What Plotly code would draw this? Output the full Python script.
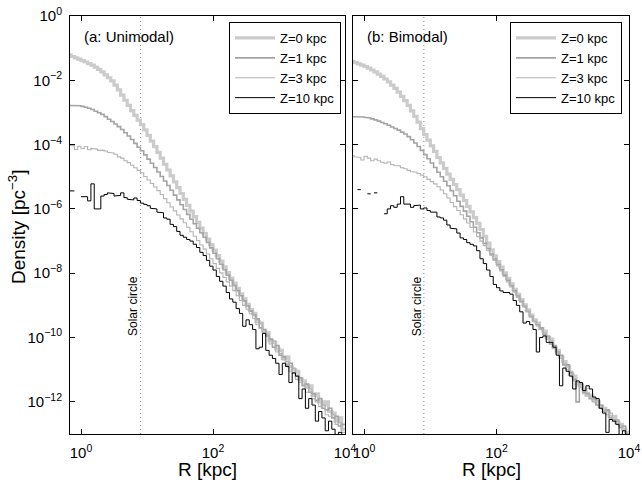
import math
import plotly.graph_objects as go

# log10(R / kpc) histogram bin edges
LOGR_EDGES = [-0.20, -0.15, -0.10, -0.05, 0.00, 0.05, 0.10, 0.15, 0.20, 0.25,
              0.30, 0.35, 0.40, 0.45, 0.50, 0.55, 0.60, 0.65, 0.70, 0.75,
              0.80, 0.85, 0.90, 0.95, 1.00, 1.05, 1.10, 1.15, 1.20, 1.25,
              1.30, 1.35, 1.40, 1.45, 1.50, 1.55, 1.60, 1.65, 1.70, 1.75,
              1.80, 1.85, 1.90, 1.95, 2.00, 2.05, 2.10, 2.15, 2.20, 2.25,
              2.30, 2.35, 2.40, 2.45, 2.50, 2.55, 2.60, 2.65, 2.70, 2.75,
              2.80, 2.85, 2.90, 2.95, 3.00, 3.05, 3.10, 3.15, 3.20, 3.25,
              3.30, 3.35, 3.40, 3.45, 3.50, 3.55, 3.60, 3.65, 3.70, 3.75,
              3.80, 3.85, 3.90, 3.95, 4.00]

# log10 density [pc^-3] per bin; None = empty bin
# ---- (a) Unimodal ----
Z0_A = [-1.21, -1.26, -1.30, -1.34, -1.39, -1.43, -1.48, -1.53, -1.59, -1.66,
        -1.74, -1.83, -1.92, -2.02, -2.15, -2.30, -2.46, -2.62, -2.78, -2.94,
        -3.09, -3.24, -3.38, -3.54, -3.71, -3.89, -4.06, -4.24, -4.42, -4.61,
        -4.79, -4.97, -5.16, -5.34, -5.52, -5.70, -5.89, -6.07, -6.24, -6.42,
        -6.60, -6.77, -6.94, -7.11, -7.28, -7.45, -7.62, -7.80, -7.98, -8.15,
        -8.31, -8.47, -8.64, -8.80, -8.97, -9.13, -9.25, -9.50, -9.55, -9.80,
        -9.85, -10.10, -10.15, -10.35, -10.40, -10.65, -10.60, -10.90, -11.00, -11.05,
        -11.30, -11.35, -11.55, -11.50, -11.80, -11.75, -12.00, -12.10, -12.00, -12.30,
        -12.35, -12.60, -12.50, -12.85]
Z1_A = [-2.78, -2.78, -2.79, -2.79, -2.81, -2.84, -2.87, -2.91, -2.96, -3.01,
        -3.06, -3.13, -3.21, -3.28, -3.36, -3.44, -3.53, -3.63, -3.73, -3.84,
        -3.96, -4.08, -4.19, -4.32, -4.45, -4.58, -4.71, -4.85, -4.99, -5.13,
        -5.27, -5.42, -5.57, -5.72, -5.87, -6.02, -6.17, -6.32, -6.46, -6.60,
        -6.74, -6.88, -7.04, -7.21, -7.38, -7.55, -7.72, -7.89, -8.06, -8.22,
        -8.38, -8.54, -8.70, -8.86, -9.02, -9.18, -9.30, -9.42, -9.70, -9.75,
        -9.95, -10.05, -10.30, -10.25, -10.55, -10.60, -10.85, -10.80, -11.10, -11.20,
        -11.25, -11.50, -11.45, -11.70, -11.75, -11.95, -11.90, -12.20, -12.25, -12.20,
        -12.50, -12.45, -12.75, -12.70]
Z3_A = [-4.02, -4.03, -4.15, -4.05, -4.12, -4.06, -4.16, -4.12, -4.14, -4.18,
        -4.17, -4.20, -4.24, -4.26, -4.30, -4.38, -4.42, -4.50, -4.56, -4.64,
        -4.72, -4.80, -4.88, -4.99, -5.10, -5.21, -5.32, -5.43, -5.55, -5.68,
        -5.81, -5.94, -6.06, -6.19, -6.31, -6.43, -6.57, -6.71, -6.85, -6.98,
        -7.12, -7.25, -7.40, -7.55, -7.70, -7.85, -7.99, -8.13, -8.27, -8.40,
        -8.54, -8.70, -8.85, -9.00, -9.12, -9.26, -9.40, -9.60, -9.55, -9.85,
        -9.90, -10.20, -10.10, -10.45, -10.50, -10.70, -10.75, -11.05, -10.95, -11.30,
        -11.40, -11.45, -11.70, -11.60, -11.90, -12.00, -12.15, -12.10, -12.40, -12.45,
        -12.40, -12.70, -12.65, -12.95]
Z10_A = [-5.44, -5.44, None, None, -5.62, -5.62, -5.75, -5.22, -6.00, -6.00,
         -5.60, -5.55, -5.50, -5.52, -5.60, -5.58, -5.50, -5.65, -5.70, -5.72,
         -5.66, -5.74, -5.82, -5.86, -5.90, -5.98, -6.00, -6.10, -6.12, -6.28,
         -6.32, -6.48, -6.55, -6.70, -6.82, -6.88, -6.95, -7.00, -7.10, -7.20,
         -7.35, -7.45, -7.60, -7.78, -7.90, -8.10, -8.25, -8.40, -8.60, -8.80,
         -8.90, -9.10, -9.25, -9.65, -9.45, -9.60, -9.75, -10.35, -10.30, -9.87,
         -10.40, -10.55, -10.65, -10.80, -11.15, -10.80, -10.90, -11.40, -11.10, -11.20,
         -11.90, -11.60, -12.20, -11.90, -12.10, -12.60, -12.30, -12.50, -12.90, -12.60,
         -12.85, -13.10, -12.95, -13.20]

# ---- (b) Bimodal ----
Z0_B = [-1.41, -1.45, -1.49, -1.53, -1.57, -1.62, -1.68, -1.74, -1.81, -1.88,
        -1.96, -2.05, -2.15, -2.25, -2.37, -2.50, -2.63, -2.78, -2.95, -3.12,
        -3.30, -3.50, -3.69, -3.86, -4.04, -4.21, -4.40, -4.57, -4.74, -4.92,
        -5.08, -5.24, -5.40, -5.57, -5.74, -5.92, -6.09, -6.27, -6.45, -6.64,
        -6.85, -7.06, -7.27, -7.46, -7.64, -7.81, -7.99, -8.16, -8.33, -8.50,
        -8.66, -8.82, -8.98, -9.14, -9.30, -9.45, -9.55, -9.72, -9.80, -10.00,
        -10.05, -10.30, -10.40, -10.60, -10.75, -10.90, -11.15, -11.20, -11.45, -11.50,
        -11.60, -11.80, -11.80, -11.95, -12.00, -12.15, -12.20, -12.30, -12.45, -12.45,
        -12.65, -12.70, -12.85, -12.95]
Z1_B = [-3.13, -3.12, -3.13, -3.14, -3.15, -3.17, -3.20, -3.23, -3.27, -3.31,
        -3.35, -3.40, -3.45, -3.50, -3.55, -3.61, -3.67, -3.75, -3.85, -3.95,
        -4.06, -4.18, -4.31, -4.44, -4.57, -4.71, -4.86, -5.00, -5.14, -5.28,
        -5.43, -5.59, -5.76, -5.92, -6.07, -6.23, -6.40, -6.57, -6.74, -6.90,
        -7.07, -7.23, -7.40, -7.56, -7.72, -7.89, -8.06, -8.22, -8.39, -8.55,
        -8.71, -8.87, -9.03, -9.19, -9.35, -9.50, -9.60, -9.70, -9.90, -9.95,
        -10.20, -10.25, -10.45, -10.55, -10.85, -10.85, -11.10, -11.30, -12.00, -11.45,
        -11.70, -11.75, -11.90, -11.90, -12.10, -12.10, -12.30, -12.25, -12.50, -12.55,
        -12.60, -12.80, -12.75, -13.00]
Z3_B = [-4.34, -4.38, -4.40, -4.48, -4.36, -4.42, -4.50, -4.45, -4.50, -4.55,
        -4.58, -4.54, -4.62, -4.65, -4.66, -4.72, -4.75, -4.80, -4.84, -4.86,
        -4.90, -4.95, -5.00, -5.08, -5.15, -5.22, -5.31, -5.41, -5.53, -5.66,
        -5.80, -5.93, -6.05, -6.18, -6.31, -6.44, -6.58, -6.72, -6.86, -7.00,
        -7.14, -7.30, -7.45, -7.60, -7.77, -7.93, -8.10, -8.27, -8.43, -8.59,
        -8.75, -8.90, -9.05, -9.20, -9.36, -9.50, -9.65, -9.75, -9.85, -10.05,
        -10.10, -10.35, -10.50, -10.65, -10.80, -11.00, -11.05, -11.35, -11.40, -11.55,
        -11.75, -11.70, -11.85, -12.00, -11.95, -12.20, -12.25, -12.40, -12.35, -12.60,
        -12.55, -12.75, -12.90, -13.05]
Z10_B = [None, None, -5.40, None, None, -5.53, None, -5.50, None, None,
         -6.15, -6.00, -5.90, -5.95, -5.85, -5.62, -5.85, -5.85, -5.95, -5.90,
         -5.88, -6.00, -5.97, -6.05, -6.10, -6.10, -6.25, -6.28, -6.35, -6.50,
         -6.60, -6.62, -6.75, -6.90, -6.95, -7.05, -7.10, -7.15, -7.30, -7.55,
         -7.70, -7.90, -8.10, -8.35, -8.45, -8.55, -8.60, -8.60, -8.65, -8.85,
         -9.00, -9.20, -9.55, -9.50, -9.60, -9.75, -10.45, -10.00, -9.95, -10.15,
         -10.15, -10.30, -10.55, -11.50, -10.95, -11.05, -11.20, -11.60, -11.35, -11.40,
         -11.65, -11.50, -11.60, -11.85, -11.90, -12.20, -12.35, -12.95, -12.55, -12.60,
         -12.70, -13.05, -12.90, -13.20]

SERIES_NAMES = ["Z=0 kpc", "Z=1 kpc", "Z=3 kpc", "Z=10 kpc"]
PANEL_A = [Z0_A, Z1_A, Z3_A, Z10_A]
PANEL_B = [Z0_B, Z1_B, Z3_B, Z10_B]
PANEL_LABELS = ["(a: Unimodal)", "(b: Bimodal)"]
SOLAR_R = 8.0
X_TICKS = [1, 100, 10000]
X_TICKTEXT = ["10<sup>0</sup>", "10<sup>2</sup>", "10<sup>4</sup>"]
Y_TICKS = [1, 1e-2, 1e-4, 1e-6, 1e-8, 1e-10, 1e-12]
Y_TICKTEXT = ["10<sup>0</sup>", "10<sup>−2</sup>", "10<sup>−4</sup>", "10<sup>−6</sup>",
              "10<sup>−8</sup>", "10<sup>−10</sup>", "10<sup>−12</sup>"]

STYLES = [dict(color="#cbcbcb", width=3.2),
          dict(color="#a4a4a4", width=1.6),
          dict(color="#b4b4b4", width=1.1),
          dict(color="#000000", width=1.0)]

FONT = "Liberation Sans, Arial, Helvetica, sans-serif"


def step_xy(vals):
    xs, ys = [], []
    for i, v in enumerate(vals):
        if v is None:
            xs.append(None)
            ys.append(None)
            continue
        xs += [10 ** LOGR_EDGES[i], 10 ** LOGR_EDGES[i + 1]]
        ys += [10 ** v, 10 ** v]
    return xs, ys


fig = go.Figure()
for pi, (panel, xa, ya, lg) in enumerate([(PANEL_A, "x", "y", "legend"),
                                           (PANEL_B, "x2", "y2", "legend2")]):
    fig.add_trace(go.Scatter(x=[SOLAR_R, SOLAR_R], y=[1e-13, 1], mode="lines",
                             line=dict(color="#8a8a8a", width=1, dash="1px,3px"),
                             xaxis=xa, yaxis=ya, showlegend=False, hoverinfo="skip"))
    for si, vals in enumerate(panel):
        assert len(vals) == len(LOGR_EDGES) - 1
        xs, ys = step_xy(vals)
        fig.add_trace(go.Scatter(x=xs, y=ys, mode="lines", name=SERIES_NAMES[si],
                                 line=STYLES[si], xaxis=xa, yaxis=ya, legend=lg,
                                 connectgaps=False, hoverinfo="skip"))

W, H = 642, 485
L, R, T, B = 70, 13, 16, 51
pw = W - L - R
ph = H - T - B
dom_a = [0, 275 / pw]
dom_b = [283 / pw, 1]

axis_common = dict(type="log", showline=True, linecolor="black", linewidth=1,
                   mirror="allticks", ticks="inside", ticklen=5, tickcolor="black",
                   showgrid=False, zeroline=False, automargin=False,
                   tickfont=dict(family=FONT, size=15, color="black"))

legend_common = dict(xanchor="right", y=(H - B - 22) / ph, yanchor="top",
                     bordercolor="black", borderwidth=1, bgcolor="white",
                     font=dict(family=FONT, size=13, color="black"),
                     tracegroupgap=0, itemwidth=40)

fig.update_layout(
    template="none",
    width=W, height=H, margin=dict(l=L, r=R, t=T, b=B, pad=0, autoexpand=False),
    paper_bgcolor="white", plot_bgcolor="white", showlegend=True,
    font=dict(family=FONT, color="black"),
    xaxis=dict(domain=dom_a, range=[-0.167, 4.0], tickvals=X_TICKS, ticktext=X_TICKTEXT,
               anchor="y", ticklabelstandoff=5, **axis_common),
    xaxis2=dict(domain=dom_b, range=[-0.167, 4.0], tickvals=X_TICKS, ticktext=X_TICKTEXT,
                anchor="y2", ticklabelstandoff=5, **axis_common),
    yaxis=dict(domain=[0, 1], range=[-13, 0], tickvals=Y_TICKS, ticktext=Y_TICKTEXT,
               anchor="x", ticklabelstandoff=4, **axis_common),
    yaxis2=dict(domain=[0, 1], range=[-13, 0], tickvals=Y_TICKS, showticklabels=False,
                anchor="x2", **axis_common),
    legend=dict(x=(341 - L) / pw, **legend_common),
    legend2=dict(x=(622 - L) / pw, **legend_common),
)

annots = []
for txt, px in [(PANEL_LABELS[0], 82), (PANEL_LABELS[1], 365)]:
    annots.append(dict(text=txt, xref="paper", yref="paper",
                       x=(px - L) / pw, y=(H - B - 37) / ph, xanchor="left",
                       yanchor="middle", showarrow=False, font=dict(family=FONT, size=15)))
for xr, yr in [("x", "y"), ("x2", "y2")]:
    annots.append(dict(text="Solar circle", xref=xr, yref=yr, x=math.log10(SOLAR_R),
                       y=-9.03, xshift=-7, textangle=-90, showarrow=False,
                       font=dict(family=FONT, size=12)))
annots.append(dict(text="Density [pc<sup>−3</sup>]", xref="paper", yref="paper",
                   x=(17 - L) / pw, y=(H - B - 227) / ph, textangle=-90,
                   showarrow=False, xanchor="center", yanchor="middle",
                   font=dict(family=FONT, size=19)))
for cx in [207.5, 491]:
    annots.append(dict(text="R [kpc]", xref="paper", yref="paper",
                       x=(cx - L) / pw, y=-(469 - (H - B)) / ph,
                       showarrow=False, xanchor="center", yanchor="middle",
                       font=dict(family=FONT, size=19)))
fig.update_layout(annotations=annots)

fig.write_html("out.html", config={"displayModeBar": False},
               post_script="document.body.style.margin='0';document.body.style.padding='0';")
